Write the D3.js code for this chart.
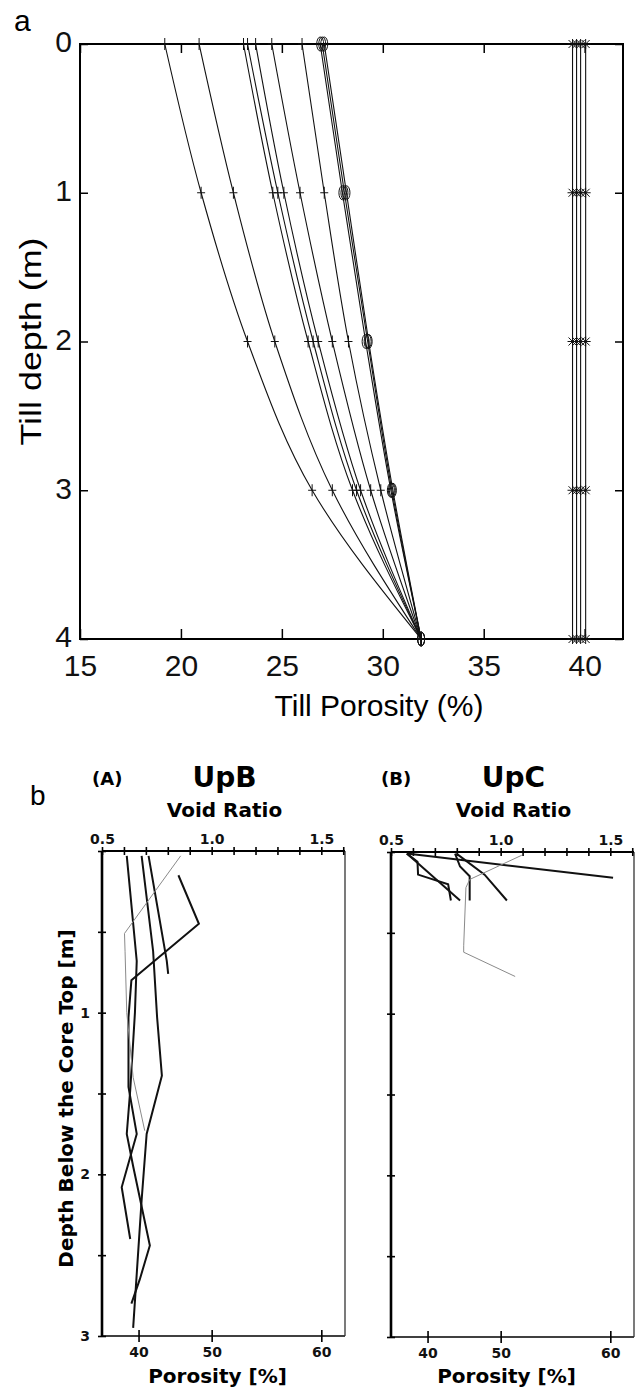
<!DOCTYPE html>
<html><head><meta charset="utf-8">
<script src="https://cdn.jsdelivr.net/npm/d3@7"></script>
<style>body{margin:0;background:#fff} svg{display:block}</style>
</head><body>
<svg id="c" width="636" height="1391"></svg>
<script>
// ---------- Panel a data ----------
const tillDepths = [0, 1, 2, 3, 4];
const porosityTicksA = [15, 20, 25, 30, 35, 40];
const depthTicksA = [0, 1, 2, 3, 4];
const plusSeries = [
  [19.2, 21.0, 23.3, 26.5, 31.9],
  [20.9, 22.6, 24.65, 27.5, 31.9],
  [23.1, 24.55, 26.3, 28.5, 31.9],
  [23.3, 24.8, 26.55, 28.7, 31.9],
  [23.7, 25.1, 26.8, 28.9, 31.9],
  [24.5, 25.9, 27.5, 29.4, 31.9],
  [26.0, 27.1, 28.3, 29.9, 31.9]
];
const circleSeries = [
  [26.9, 28.0, 29.15, 30.4, 31.9],
  [27.0, 28.1, 29.25, 30.45, 31.9],
  [27.1, 28.2, 29.3, 30.5, 31.9]
];
const starSeries = [
  [39.4, 39.4, 39.4, 39.4, 39.4],
  [39.6, 39.6, 39.6, 39.6, 39.6],
  [39.8, 39.8, 39.8, 39.8, 39.8],
  [40.05, 40.05, 40.05, 40.05, 40.05]
];

// ---------- Panel b data ----------
const voidTicks = [0.5, 0.6, 0.7, 0.8, 0.9, 1.0, 1.1, 1.2, 1.3, 1.4, 1.5, 1.6];
const voidLabels = [0.5, 1.0, 1.5];
const porosityTicksB = [40, 50, 60];
const depthTicksB = [0, 0.5, 1, 1.5, 2, 2.5, 3];
const depthLabelsB = [1, 2, 3];

const upbDepths = [
  [0.15, 0.45, 0.80, 1.03, 1.46, 1.75, 2.08, 2.40],
  [0.03, 0.68, 0.76],
  [0.03, 0.62, 1.03, 1.39, 1.75, 2.16, 2.95],
  [0.03, 0.68, 1.0, 1.48, 1.75, 1.95, 2.44, 2.65, 2.80],
  [0.03, 0.51, 0.62, 1.0, 1.4, 1.73]
];
const upbPorosity = [
  [45.9, 48.5, 38.8, 38.3, 38.3, 39.7, 37.1, 38.6],
  [41.6, 44.3, 44.5],
  [40.5, 42.3, 42.9, 43.6, 41.3, 40.5, 39.1],
  [38.0, 39.7, 39.4, 38.6, 38.0, 39.1, 41.8, 40.2, 38.8],
  [46.2, 37.6, 37.7, 38.0, 39.1, 41.0]
];
const upcDepths = [
  [0.01, 0.16],
  [0.01, 0.06, 0.14, 0.20, 0.30],
  [0.01, 0.30],
  [0.01, 0.09, 0.15, 0.30],
  [0.01, 0.14, 0.30],
  [0.02, 0.17, 0.22, 0.58, 0.62, 0.77]
];
const upcPorosity = [
  [36.4, 60.2],
  [36.4, 38.3, 38.4, 43.2, 43.6],
  [36.4, 44.9],
  [44.2, 44.9, 46.2, 46.2],
  [44.4, 48.1, 50.7],
  [52.3, 46.2, 45.7, 45.4, 45.4, 51.6]
];
const upbThin = [false, false, false, false, true];
const upcThin = [false, false, false, false, false, true];

// ---------- Drawing ----------
const svg = d3.select('#c');
const FA = '"Liberation Sans", Arial, Helvetica, sans-serif';
const FB = '"DejaVu Sans", Verdana, sans-serif';

// Panel a
const A = {l: 80, r: 623, t: 44, b: 639};
const xa = d3.scaleLinear().domain([15, 41.9]).range([A.l, A.r]);
const ya = d3.scaleLinear().domain([0, 4]).range([A.t, A.b]);
const ga = svg.append('g');

function styleAxisA(g) {
  g.select('.domain').remove();
  g.selectAll('.tick line').attr('stroke', '#000').attr('stroke-width', 1.5);
  g.selectAll('text').attr('font-family', FA).attr('font-size', 30).attr('fill', '#111');
}
ga.append('g').attr('transform', `translate(0,${A.b})`)
  .call(d3.axisBottom(xa).tickValues(porosityTicksA).tickSize(-10).tickPadding(16).tickFormat(d3.format('d')))
  .call(styleAxisA);
ga.append('g').attr('transform', `translate(0,${A.t})`)
  .call(d3.axisTop(xa).tickValues(porosityTicksA).tickSize(-9).tickFormat(''))
  .call(styleAxisA);
const yAxA = ga.append('g').attr('transform', `translate(${A.l},0)`)
  .call(d3.axisLeft(ya).tickValues(depthTicksA).tickSize(-8).tickPadding(8).tickFormat(d3.format('d')))
  .call(styleAxisA);
yAxA.selectAll('.tick text').attr('dy', '0.26em');
ga.append('g').attr('transform', `translate(${A.r},0)`)
  .call(d3.axisRight(ya).tickValues(depthTicksA).tickSize(-8).tickFormat(''))
  .call(styleAxisA);
ga.append('rect').attr('x', A.l).attr('y', A.t).attr('width', A.r - A.l).attr('height', A.b - A.t)
  .attr('fill', 'none').attr('stroke', '#000').attr('stroke-width', 2);

const lineA = d3.line().x(d => xa(d[0])).y(d => ya(d[1])).curve(d3.curveMonotoneY);
function seriesPts(s) { return s.map((v, i) => [v, tillDepths[i]]); }

plusSeries.forEach(s => {
  ga.append('path').attr('d', lineA(seriesPts(s))).attr('fill', 'none').attr('stroke', '#111').attr('stroke-width', 1.1);
  seriesPts(s).forEach(p => {
    ga.append('path').attr('transform', `translate(${xa(p[0])},${ya(p[1])})`)
      .attr('d', 'M-4,0H4M0,-6V6').attr('stroke', '#111').attr('stroke-width', 1);
  });
});
circleSeries.forEach(s => {
  ga.append('path').attr('d', lineA(seriesPts(s))).attr('fill', 'none').attr('stroke', '#111').attr('stroke-width', 1.1);
});
circleSeries.forEach(s => {
  seriesPts(s).forEach(p => {
    ga.append('ellipse').attr('cx', xa(p[0])).attr('cy', ya(p[1])).attr('rx', 3.5).attr('ry', 7)
      .attr('fill', 'none').attr('stroke', '#111').attr('stroke-width', 1);
  });
});
starSeries.forEach(s => {
  ga.append('path').attr('d', lineA(seriesPts(s))).attr('fill', 'none').attr('stroke', '#111').attr('stroke-width', 1.1);
  seriesPts(s).forEach(p => {
    ga.append('path').attr('transform', `translate(${xa(p[0])},${ya(p[1])})`)
      .attr('d', 'M-5,0H5M0,-5V5M-4,-4L4,4M-4,4L4,-4').attr('stroke', '#111').attr('stroke-width', 1);
  });
});

ga.append('text').attr('x', 14).attr('y', 31).attr('font-family', FA).attr('font-size', 30).text('a');
ga.append('text').attr('x', 379).attr('y', 716).attr('text-anchor', 'middle')
  .attr('font-family', FA).attr('font-size', 30).text('Till Porosity (%)');
ga.append('text').attr('transform', `translate(41,${(A.t + A.b) / 2}) rotate(-90)`).attr('text-anchor', 'middle')
  .attr('font-family', FA).attr('font-size', 30).attr('textLength', 208).attr('lengthAdjust', 'spacingAndGlyphs')
  .text('Till depth (m)');

// Panel b
svg.append('text').attr('x', 30).attr('y', 805).attr('font-family', FA).attr('font-size', 28).text('b');

function panelB(opt) {
  const {l, r, t, b, depths, porosity, thin, tag, name, yLabels} = opt;
  const g = svg.append('g');
  const x = d3.scaleLinear().domain([0.5, 1.608]).range([l, r]);
  const y = d3.scaleLinear().domain([0, 3]).range([t, b]);
  const toVoid = n => n / (100 - n);

  g.append('line').attr('x1', l).attr('x2', r).attr('y1', t).attr('y2', t).attr('stroke', '#000').attr('stroke-width', 2);
  g.append('line').attr('x1', l).attr('x2', r).attr('y1', b).attr('y2', b).attr('stroke', '#000').attr('stroke-width', 1.5);
  g.append('line').attr('x1', r).attr('x2', r).attr('y1', t).attr('y2', b).attr('stroke', '#333').attr('stroke-width', 1.3);

  const top = g.append('g').attr('transform', `translate(0,${t})`)
    .call(d3.axisTop(x).tickValues(voidTicks).tickSize(4).tickPadding(3)
      .tickFormat(d => voidLabels.some(v => Math.abs(v - d) < 1e-6) ? d3.format('.1f')(d) : ''));
  top.selectAll('.tick line').attr('y1', 4);
  const bot = g.append('g').attr('transform', `translate(0,${b})`)
    .call(d3.axisBottom(x).tickValues(porosityTicksB.map(toVoid)).tickSize(6).tickPadding(5)
      .tickFormat((d, i) => porosityTicksB[i]));
  bot.selectAll('.tick line').attr('y1', -6);
  const left = g.append('g').attr('transform', `translate(${l},0)`)
    .call(d3.axisLeft(y).tickValues(depthTicksB).tickSize(4).tickPadding(8)
      .tickFormat(d => yLabels && depthLabelsB.includes(d) ? d : ''));
  left.selectAll('.tick line').attr('x1', 4);
  [top, bot, left].forEach(a => {
    a.select('.domain').remove();
    a.selectAll('.tick line').attr('stroke', '#000').attr('stroke-width', 1.6);
    a.selectAll('text').attr('font-family', FB).attr('font-weight', 'bold').attr('font-size', 14).attr('fill', '#111');
  });
  g.append('line').attr('x1', l).attr('x2', l).attr('y1', t).attr('y2', b).attr('stroke', '#000').attr('stroke-width', 2.6);

  const line = d3.line().x(d => x(toVoid(d[0]))).y(d => y(d[1]));
  depths.forEach((ds, i) => {
    const pts = ds.map((dv, j) => [porosity[i][j], dv]);
    g.append('path').attr('d', line(pts)).attr('fill', 'none')
      .attr('stroke', thin[i] ? '#8a8a8a' : '#111').attr('stroke-width', thin[i] ? 1 : 2)
      .attr('stroke-linejoin', 'miter');
  });

  const cx = (l + r) / 2 - 1;
  g.append('text').attr('x', l - 10).attr('y', 785).attr('font-family', FB).attr('font-weight', 'bold').attr('font-size', 18).text(tag);
  g.append('text').attr('x', cx + 2).attr('y', 787).attr('text-anchor', 'middle').attr('font-family', FB).attr('font-weight', 'bold').attr('font-size', 28).text(name);
  g.append('text').attr('x', cx + 2).attr('y', 817).attr('text-anchor', 'middle').attr('font-family', FB).attr('font-weight', 'bold').attr('font-size', 20).text('Void Ratio');
  g.append('text').attr('x', cx - 5).attr('y', 1383).attr('text-anchor', 'middle').attr('font-family', FB).attr('font-weight', 'bold').attr('font-size', 20).text('Porosity [%]');
  if (yLabels) {
    g.append('text').attr('transform', `translate(73,${(t + b) / 2 + 5}) rotate(-90)`).attr('text-anchor', 'middle')
      .attr('font-family', FB).attr('font-weight', 'bold').attr('font-size', 20).text('Depth Below the Core Top [m]');
  }
}
panelB({l: 102, r: 345, t: 851, b: 1336, depths: upbDepths, porosity: upbPorosity, thin: upbThin, tag: '(A)', name: 'UpB', yLabels: true});
panelB({l: 391, r: 634, t: 852, b: 1337, depths: upcDepths, porosity: upcPorosity, thin: upcThin, tag: '(B)', name: 'UpC', yLabels: false});
</script></body></html>
